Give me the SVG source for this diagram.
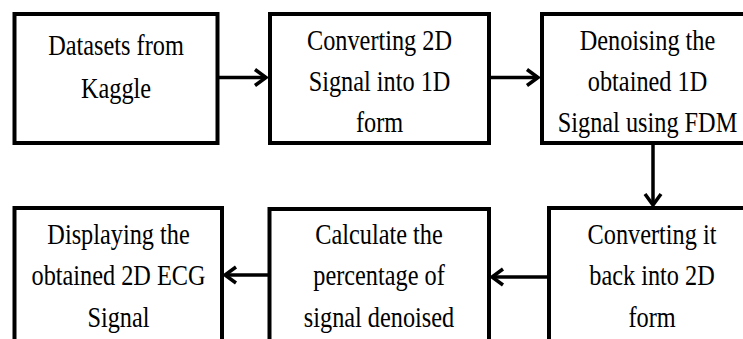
<svg xmlns="http://www.w3.org/2000/svg" width="743" height="339" viewBox="0 0 743 339">
<defs>
<style>
.box{fill:#fff;stroke:#000;stroke-width:4}
.t{font-family:"Liberation Serif","Times New Roman",serif;font-size:30px;fill:#000;text-anchor:middle}
.c{fill:none;stroke:#000;stroke-width:3.5}
</style>
<marker id="ah" markerUnits="userSpaceOnUse" markerWidth="18" markerHeight="22" viewBox="0 0 18 22" refX="15" refY="11" orient="auto">
<path d="M4,3 L15,11 L4,19" fill="none" stroke="#000" stroke-width="3.5"/>
</marker>
</defs>
<rect width="743" height="339" fill="#fff"/>
<g id="connectors">
<line class="c" x1="217" y1="77.5" x2="266" y2="77.5" marker-end="url(#ah)"/>
<line class="c" x1="489" y1="77.5" x2="538" y2="77.5" marker-end="url(#ah)"/>
<line class="c" x1="653" y1="145" x2="653" y2="205" marker-end="url(#ah)"/>
<line class="c" x1="548" y1="277" x2="492" y2="277" marker-end="url(#ah)"/>
<line class="c" x1="268" y1="275" x2="225" y2="275" marker-end="url(#ah)"/>
</g>
<g id="n1">
<rect class="box" x="14.5" y="14" width="203" height="129"/>
<text class="t" transform="translate(116,0) scale(0.81,1)"><tspan x="0" y="55">Datasets from</tspan><tspan x="0" y="98">Kaggle</tspan></text>
</g>
<g id="n2">
<rect class="box" x="270" y="14" width="219" height="129"/>
<text class="t" transform="translate(379.5,0) scale(0.81,1)"><tspan x="0" y="50">Converting 2D</tspan><tspan x="0" y="91">Signal into 1D</tspan><tspan x="0" y="132">form</tspan></text>
</g>
<g id="n3">
<rect class="box" x="542" y="14" width="212" height="129"/>
<text class="t" transform="translate(647.5,0) scale(0.81,1)"><tspan x="0" y="50">Denoising the</tspan><tspan x="0" y="91">obtained 1D</tspan><tspan x="0" y="132">Signal using FDM</tspan></text>
</g>
<g id="n4">
<rect class="box" x="549" y="208" width="206" height="150"/>
<text class="t" transform="translate(652,0) scale(0.81,1)"><tspan x="0" y="244">Converting it</tspan><tspan x="0" y="285">back into 2D</tspan><tspan x="0" y="327">form</tspan></text>
</g>
<g id="n5">
<rect class="box" x="269.5" y="209" width="219.5" height="150"/>
<text class="t" transform="translate(379,0) scale(0.81,1)"><tspan x="0" y="244">Calculate the</tspan><tspan x="0" y="285">percentage of</tspan><tspan x="0" y="327">signal denoised</tspan></text>
</g>
<g id="n6">
<rect class="box" x="14.5" y="208" width="207.5" height="150"/>
<text class="t" transform="translate(118.5,0) scale(0.81,1)"><tspan x="0" y="244">Displaying the</tspan><tspan x="0" y="285">obtained 2D ECG</tspan><tspan x="0" y="327">Signal</tspan></text>
</g>
</svg>
